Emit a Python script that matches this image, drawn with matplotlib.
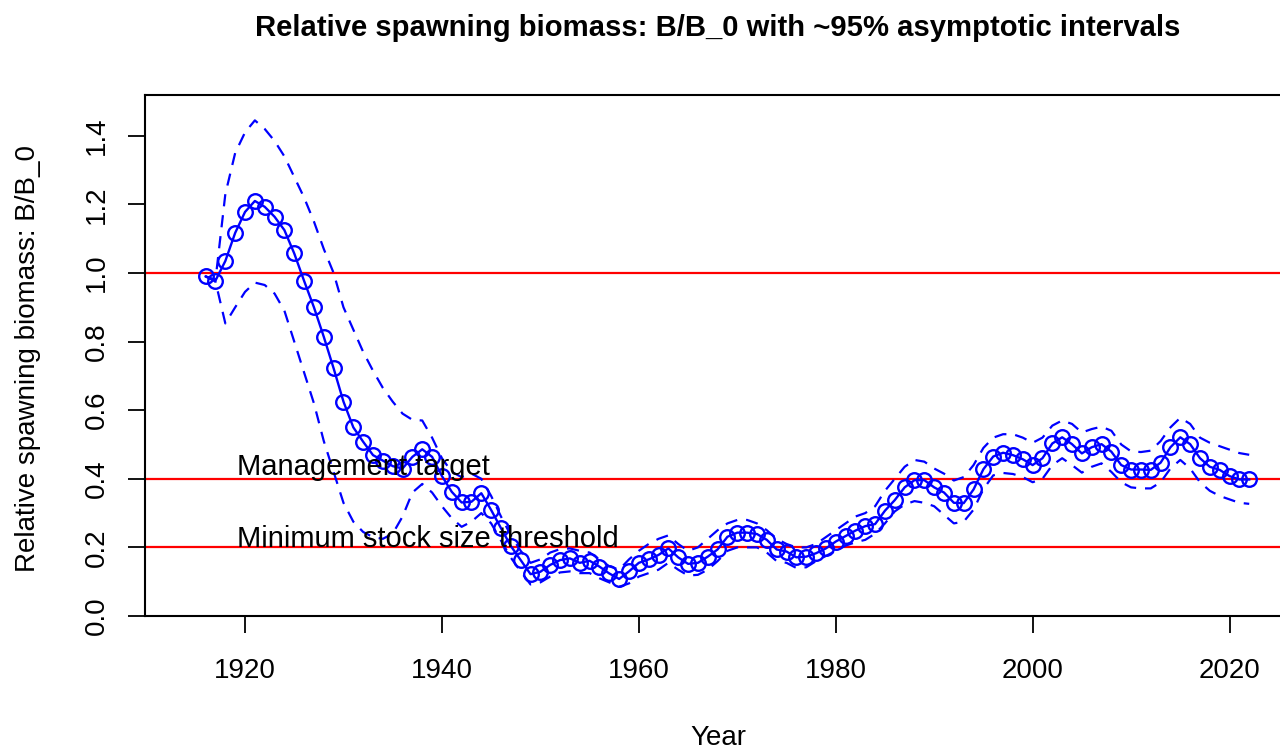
import numpy as np
import matplotlib
matplotlib.use("Agg")
import matplotlib.pyplot as plt

plt.rcParams['font.family'] = ['Liberation Sans', 'DejaVu Sans']

years = list(range(1916, 2023))

bratio = [
    0.99, 0.978, 1.035, 1.117, 1.178, 1.21, 1.193, 1.164, 1.125, 1.057,   # 1916-1925
    0.977, 0.90, 0.814, 0.722, 0.625, 0.55, 0.508, 0.469, 0.453, 0.437,   # 1926-1935
    0.43, 0.464, 0.486, 0.464, 0.408, 0.362, 0.331, 0.333, 0.358, 0.309,  # 1936-1945
    0.256, 0.204, 0.163, 0.122, 0.129, 0.149, 0.163, 0.168, 0.155, 0.161, # 1946-1955
    0.144, 0.124, 0.108, 0.13, 0.155, 0.165, 0.178, 0.197, 0.171, 0.152,  # 1956-1965
    0.155, 0.173, 0.194, 0.231, 0.243, 0.243, 0.239, 0.222, 0.194, 0.188, # 1966-1975
    0.171, 0.173, 0.183, 0.197, 0.217, 0.233, 0.249, 0.262, 0.268, 0.307, # 1976-1985
    0.338, 0.375, 0.396, 0.396, 0.375, 0.36, 0.33, 0.329, 0.369, 0.428,   # 1986-1995
    0.465, 0.476, 0.469, 0.457, 0.44, 0.46, 0.503, 0.521, 0.501, 0.474,   # 1996-2005
    0.492, 0.501, 0.479, 0.44, 0.427, 0.427, 0.426, 0.447, 0.492, 0.521,  # 2006-2015
    0.501, 0.46, 0.435, 0.426, 0.408, 0.398, 0.398,                       # 2016-2022
]

upper = [
    0.99, 0.98, 1.23, 1.35, 1.41, 1.445, 1.42, 1.385, 1.34, 1.28,
    1.22, 1.15, 1.07, 1.0, 0.90, 0.835, 0.77, 0.715, 0.665, 0.625,
    0.59, 0.572, 0.57, 0.52, 0.46, 0.42, 0.405, 0.415, 0.40, 0.35,
    0.29, 0.235, 0.19, 0.155, 0.165, 0.185, 0.195, 0.197, 0.19, 0.185,
    0.165, 0.145, 0.135, 0.165, 0.19, 0.21, 0.225, 0.235, 0.21, 0.19,
    0.20, 0.225, 0.25, 0.27, 0.28, 0.28, 0.27, 0.25, 0.225, 0.21,
    0.20, 0.20, 0.21, 0.23, 0.25, 0.27, 0.29, 0.30, 0.32, 0.365,
    0.40, 0.435, 0.455, 0.45, 0.43, 0.415, 0.395, 0.405, 0.44, 0.49,
    0.52, 0.53, 0.53, 0.52, 0.505, 0.52, 0.555, 0.57, 0.56, 0.535,
    0.545, 0.552, 0.54, 0.50, 0.48, 0.478, 0.482, 0.51, 0.55, 0.578,
    0.56, 0.52, 0.505, 0.495, 0.485, 0.475, 0.47,
]

lower = [
    0.99, 0.975, 0.853, 0.90, 0.945, 0.972, 0.965, 0.94, 0.89, 0.80,
    0.71, 0.62, 0.51, 0.42, 0.33, 0.275, 0.245, 0.23, 0.225, 0.24,
    0.29, 0.36, 0.385, 0.36, 0.32, 0.285, 0.26, 0.275, 0.30, 0.27,
    0.22, 0.17, 0.13, 0.092, 0.098, 0.115, 0.127, 0.13, 0.125, 0.125,
    0.11, 0.098, 0.085, 0.095, 0.115, 0.125, 0.135, 0.155, 0.135, 0.118,
    0.12, 0.135, 0.16, 0.19, 0.2, 0.2, 0.2, 0.185, 0.16, 0.155,
    0.14, 0.142, 0.16, 0.175, 0.19, 0.205, 0.215, 0.222, 0.24, 0.27,
    0.305, 0.325, 0.335, 0.33, 0.32, 0.295, 0.27, 0.275, 0.31, 0.37,
    0.41, 0.417, 0.414, 0.405, 0.39, 0.40, 0.44, 0.46, 0.44, 0.418,
    0.435, 0.445, 0.42, 0.39, 0.375, 0.372, 0.372, 0.39, 0.43, 0.455,
    0.43, 0.39, 0.365, 0.35, 0.34, 0.33, 0.327,
]

ref_levels = [1.0, 0.4, 0.2]
ref_labels = {0.4: "Management target", 0.2: "Minimum stock size threshold"}

x_ticks = [1920, 1940, 1960, 1980, 2000, 2020]
y_ticks = [0.0, 0.2, 0.4, 0.6, 0.8, 1.0, 1.2, 1.4]

W, H = 1280, 749
fig = plt.figure(figsize=(W / 100, H / 100), dpi=100)
L, R, T, B = 145, 1285, 95, 616
ax = fig.add_axes([L / W, 1 - B / H, (R - L) / W, (B - T) / H])
ax.set_xlim(1909.84, 1909.84 + (R - L) / 9.845)
ax.set_ylim(0, (B - T) / 343.0)

blue = "#0000FF"
for lv in ref_levels:
    ax.axhline(lv, color="#FF0000", lw=1.6, zorder=1)

ax.plot(years, upper, color=blue, lw=1.6, dashes=(5.5, 4), zorder=2)
ax.plot(years, lower, color=blue, lw=1.6, dashes=(5.5, 4), zorder=2)
ax.plot(years, bratio, color=blue, lw=1.7, marker="o", ms=10.5,
        mfc="none", mec=blue, mew=1.7, zorder=3)

ax.text(1919.15, 0.41, ref_labels[0.4], fontsize=21, va="baseline", ha="left", zorder=4)
ax.text(1919.15, 0.2, ref_labels[0.2], fontsize=21, va="baseline", ha="left", zorder=4)

ax.set_xticks(x_ticks)
ax.set_yticks(y_ticks)
ax.set_xticklabels([str(v) for v in x_ticks])
ax.set_yticklabels([f"{v:.1f}" for v in y_ticks], rotation=90, va="center")
ax.tick_params(axis="both", length=12, width=1.3, labelsize=20, direction="out")
ax.tick_params(axis="x", pad=18)
ax.tick_params(axis="y", pad=13)
for s in ax.spines.values():
    s.set_linewidth(1.5)

fig.text(718 / W, 1 - 28 / H, "Relative spawning biomass: B/B_0 with ~95% asymptotic intervals",
         ha="center", va="center", fontsize=21.1, fontweight="bold")
fig.text(718 / W, 1 - 738 / H, "Year", ha="center", va="center", fontsize=20)
fig.text(28 / W, 1 - 358 / H, "Relative spawning biomass: B/B_0", ha="center", va="center",
         fontsize=20, rotation=90)

fig.savefig("out.png", dpi=100)
